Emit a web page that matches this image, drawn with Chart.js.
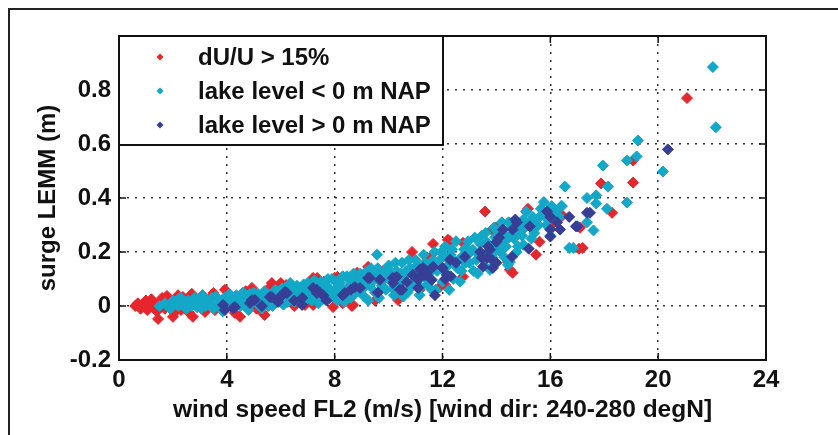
<!DOCTYPE html>
<html>
<head>
<meta charset="utf-8">
<script src="https://cdn.jsdelivr.net/npm/chart.js@4.4.0/dist/chart.umd.min.js"></script>
<style>
  html, body { margin: 0; padding: 0; background: #fff; }
  #wrap { position: relative; width: 838px; height: 435px; }
</style>
</head>
<body>
<div id="wrap"><canvas id="surge" width="838" height="435"></canvas></div>
<script>
/* ─── Data ───────────────────────────────────────────────────────────────── */
const seriesLabels = ['dU/U > 15%', 'lake level < 0 m NAP', 'lake level > 0 m NAP'];
const seriesColors = ['#e6262d', '#13a8c8', '#363e96'];

// [wind speed (m/s), surge (m)]
const gustyPoints = [
  [0.6,0.0],[0.7,0.01],[0.8,-0.01],[0.9,0.005],[1.0,0.02],[1.05,-0.015],[1.1,0.0],[1.2,0.025],
  [1.25,-0.005],[1.3,0.01],[1.4,-0.02],[1.45,-0.048],[1.5,0.015],[1.6,0.03],[1.7,-0.01],[1.78,0.037],
  [1.85,0.005],[2.0,-0.04],[2.1,-0.02],[2.19,0.04],[2.3,-0.015],[2.37,0.033],[2.5,0.025],[2.6,-0.025],
  [2.7,0.045],[2.74,-0.04],[2.74,0.033],[2.9,0.02],[3.1,0.04],[3.19,-0.022],[3.3,0.01],[3.5,0.048],
  [3.5,0.04],[3.56,-0.015],[3.7,-0.005],[3.93,0.06],[4.1,0.03],[4.3,-0.026],[4.49,-0.04],[4.5,0.04],
  [4.7,0.055],[4.93,0.067],[5.1,-0.01],[5.3,-0.022],[5.3,0.011],[5.4,-0.033],[5.5,0.06],[5.67,0.085],
  [5.7,0.078],[5.97,0.078],[6.0,0.085],[6.2,0.078],[6.34,0.078],[6.5,0.0],[6.9,0.004],[7.2,0.004],
  [7.2,0.104],[7.35,0.104],[7.6,0.09],[7.94,-0.004],[8.0,0.104],[8.1,0.108],[8.3,0.01],[8.64,0.0],
  [8.68,0.004],[8.83,0.123],[9.24,0.145],[9.5,0.02],[9.8,0.13],[10.35,0.022],[10.87,0.2],[11.16,0.06],
  [11.42,0.18],[11.54,0.18],[11.65,0.23],[11.9,0.07],[12.1,0.078],[12.2,0.245],[12.28,0.24],[12.76,0.234],
  [12.76,0.108],[13.58,0.35],[13.83,0.282],[13.95,0.29],[14.06,0.293],[14.43,0.163],[14.5,0.134],[14.6,0.123],
  [15.17,0.36],[15.47,0.19],[15.6,0.238],[16.0,0.295],[16.45,0.335],[17.06,0.212],[17.1,0.29],[17.2,0.215],
  [17.88,0.454],[18.29,0.345],[19.07,0.539],[19.07,0.457],[21.07,0.77]
];

const lowLakePoints = [
  [1.5,0.0],[1.7,0.01],[1.9,-0.01],[2.0,0.02],[2.1,0.015],[2.2,0.0],[2.25,0.03],[2.3,0.03],[2.4,0.005],
  [2.5,-0.01],[2.55,0.02],[2.6,0.01],[2.7,0.0],[2.8,0.03],[2.85,0.01],[2.9,-0.005],[3.0,0.015],[3.05,-0.01],
  [3.1,0.04],[3.15,0.025],[3.2,0.0],[3.35,0.02],[3.4,0.005],[3.45,0.03],[3.5,-0.01],[3.6,0.035],[3.7,0.01],
  [3.75,0.0],[3.8,0.02],[3.85,-0.02],[3.9,0.03],[4.0,0.01],[4.05,0.03],[4.1,0.045],[4.15,0.01],[4.2,-0.005],
  [4.3,0.02],[4.35,0.04],[4.4,0.025],[4.45,0.035],[4.5,0.0],[4.55,0.02],[4.6,0.05],[4.65,0.005],[4.7,0.015],
  [4.8,-0.015],[4.85,0.045],[4.9,0.03],[4.95,0.015],[5.0,0.05],[5.1,0.01],[5.15,0.045],[5.2,0.035],[5.25,0.025],
  [5.3,-0.01],[5.4,0.055],[5.45,0.035],[5.5,0.02],[5.55,0.0],[5.6,0.04],[5.7,0.0],[5.75,0.02],[5.8,0.06],
  [5.85,0.035],[5.9,0.025],[6.0,0.045],[6.05,0.065],[6.1,0.005],[6.15,0.05],[6.2,0.07],[6.25,0.015],[6.3,0.03],
  [6.35,0.085],[6.4,0.05],[6.45,0.035],[6.5,0.015],[6.55,0.055],[6.6,0.075],[6.7,0.04],[6.75,0.025],[6.8,0.06],
  [6.85,0.08],[6.9,0.02],[6.95,0.04],[7.0,0.085],[7.05,0.06],[7.1,0.045],[7.15,0.02],[7.2,0.03],[7.25,0.095],
  [7.3,0.07],[7.35,0.04],[7.4,0.01],[7.45,0.06],[7.5,0.09],[7.55,0.025],[7.6,0.05],[7.65,0.065],[7.7,0.075],
  [7.75,0.1],[7.8,0.03],[7.85,0.055],[7.9,0.1],[7.95,0.045],[8.0,0.06],[8.05,0.09],[8.1,0.02],[8.15,0.04],
  [8.2,0.085],[8.25,0.065],[8.3,0.11],[8.35,0.015],[8.4,0.05],[8.45,0.11],[8.5,0.07],[8.55,0.095],[8.6,0.03],
  [8.65,0.08],[8.7,0.12],[8.75,0.045],[8.8,0.09],[8.85,0.075],[8.9,0.055],[8.95,0.12],[9.0,0.1],[9.05,0.065],
  [9.1,0.035],[9.15,0.085],[9.2,0.13],[9.25,0.02],[9.3,0.075],[9.35,0.14],[9.4,0.11],[9.45,0.095],[9.5,0.05],
  [9.55,0.115],[9.57,0.19],[9.6,0.14],[9.65,0.03],[9.7,0.09],[9.75,0.075],[9.8,0.12],[9.85,0.1],[9.9,0.06],
  [9.95,0.14],[10.0,0.15],[10.05,0.12],[10.1,0.1],[10.15,0.065],[10.2,0.04],[10.25,0.16],[10.3,0.13],[10.35,0.1],
  [10.4,0.08],[10.45,0.12],[10.5,0.16],[10.55,0.035],[10.6,0.11],[10.65,0.13],[10.7,0.05],[10.75,0.17],[10.8,0.14],
  [10.85,0.07],[10.9,0.09],[10.95,0.11],[11.0,0.17],[11.05,0.15],[11.1,0.12],[11.15,0.04],[11.2,0.07],[11.25,0.14],
  [11.3,0.19],[11.35,0.16],[11.4,0.1],[11.45,0.08],[11.5,0.15],[11.55,0.125],[11.6,0.06],[11.65,0.17],[11.7,0.2],
  [11.75,0.06],[11.8,0.13],[11.85,0.15],[11.9,0.17],[11.95,0.2],[12.0,0.09],[12.05,0.13],[12.1,0.22],[12.15,0.18],
  [12.2,0.15],[12.25,0.06],[12.3,0.19],[12.35,0.21],[12.4,0.1],[12.45,0.165],[12.5,0.24],[12.55,0.14],[12.6,0.17],
  [12.65,0.09],[12.7,0.13],[12.75,0.185],[12.8,0.21],[12.85,0.16],[12.9,0.215],[12.95,0.24],[13.0,0.16],[13.05,0.2],
  [13.13,0.208],[13.15,0.13],[13.2,0.253],[13.25,0.17],[13.3,0.12],[13.35,0.19],[13.4,0.23],[13.45,0.26],[13.5,0.18],
  [13.55,0.15],[13.6,0.27],[13.65,0.235],[13.7,0.2],[13.76,0.134],[13.8,0.22],[13.85,0.18],[13.9,0.29],[13.95,0.255],
  [14.0,0.208],[14.05,0.28],[14.1,0.227],[14.15,0.2],[14.2,0.31],[14.25,0.27],[14.3,0.18],[14.3,0.238],[14.35,0.22],
  [14.43,0.152],[14.45,0.31],[14.5,0.257],[14.5,0.163],[14.55,0.29],[14.65,0.25],[14.69,0.275],[14.75,0.2],[14.8,0.22],
  [14.85,0.27],[14.87,0.3],[14.95,0.26],[15.0,0.227],[15.0,0.32],[15.05,0.29],[15.1,0.35],[15.15,0.3],[15.25,0.31],
  [15.3,0.25],[15.35,0.33],[15.4,0.27],[15.45,0.29],[15.5,0.32],[15.55,0.3],[15.6,0.33],[15.65,0.36],[15.75,0.35],
  [15.76,0.385],[15.85,0.3],[15.9,0.32],[16.0,0.26],[16.05,0.37],[16.1,0.34],[16.2,0.35],[16.35,0.33],[16.4,0.37],
  [16.43,0.37],[16.54,0.442],[16.7,0.215],[16.85,0.215],[17.36,0.4],[17.36,0.31],[17.6,0.28],[17.7,0.41],[17.7,0.38],
  [17.95,0.52],[18.1,0.36],[18.14,0.442],[18.84,0.383],[18.84,0.539],[19.2,0.554],[19.25,0.613],[20.18,0.498],
  [22.03,0.885],[22.14,0.662]
];

const highLakePoints = [
  [3.86,0.004],[3.93,-0.015],[4.23,-0.008],[4.3,-0.004],[4.86,0.011],[4.93,0.022],[5.04,0.022],[5.3,0.0],
  [5.6,0.033],[5.67,0.033],[5.9,0.015],[5.97,0.033],[6.05,0.04],[6.16,0.052],[6.23,0.048],[6.5,0.02],
  [6.79,0.004],[6.8,0.03],[7.2,0.067],[7.34,0.06],[7.34,0.048],[7.57,0.04],[7.7,0.02],[8.3,0.04],
  [8.38,0.048],[8.6,0.06],[8.75,0.07],[8.94,0.067],[9.24,0.104],[9.3,0.104],[9.6,0.05],[9.68,0.097],
  [10.16,0.104],[10.16,0.085],[10.3,0.108],[10.42,0.06],[10.5,0.06],[10.68,0.089],[10.9,0.115],[11.1,0.067],
  [11.1,0.097],[11.16,0.134],[11.28,0.141],[11.35,0.115],[11.42,0.123],[11.6,0.097],[11.65,0.145],[11.72,0.04],
  [12.0,0.141],[12.1,0.1],[12.16,0.115],[12.28,0.171],[12.3,0.11],[12.5,0.16],[12.83,0.182],[13.4,0.2],
  [13.46,0.178],[13.5,0.145],[13.65,0.178],[13.7,0.22],[13.76,0.208],[13.83,0.171],[13.87,0.141],[14.0,0.238],
  [14.0,0.16],[14.1,0.253],[14.24,0.283],[14.58,0.182],[14.6,0.283],[14.7,0.32],[14.76,0.31],[15.2,0.212],
  [15.24,0.295],[15.88,0.35],[16.0,0.33],[16.0,0.283],[16.0,0.257],[16.25,0.31],[16.36,0.283],[16.7,0.33],
  [16.95,0.295],[17.0,0.295],[17.36,0.345],[17.47,0.345],[20.36,0.58]
];

const xTicks = [0, 4, 8, 12, 16, 20, 24];
const yTicks = [-0.2, 0, 0.2, 0.4, 0.6, 0.8];

const FONT = 'Liberation Sans, Arial, sans-serif';

/* ─── Frame, box, inside ticks, legend ───────────────────────────────────── */
const matlabLook = {
  id: 'matlabLook',
  beforeDraw(chart) {
    const { ctx, width, height } = chart;
    ctx.save();
    ctx.fillStyle = '#fff';
    ctx.fillRect(0, 0, width, height);
    ctx.strokeStyle = '#222';
    ctx.lineWidth = 2;
    ctx.beginPath();
    ctx.moveTo(9, height);
    ctx.lineTo(9, 9);
    ctx.lineTo(width, 9);
    ctx.stroke();
    ctx.restore();
  },
  afterDraw(chart) {
    const { ctx, chartArea: a, scales: { x, y } } = chart;
    ctx.save();
    ctx.strokeStyle = '#111';
    ctx.lineWidth = 1.5;
    ctx.beginPath();
    xTicks.forEach(v => {
      const px = x.getPixelForValue(v);
      ctx.moveTo(px, a.bottom); ctx.lineTo(px, a.bottom - 7);
      ctx.moveTo(px, a.top);    ctx.lineTo(px, a.top + 7);
    });
    yTicks.forEach(v => {
      const py = y.getPixelForValue(v);
      ctx.moveTo(a.left, py);  ctx.lineTo(a.left + 7, py);
      ctx.moveTo(a.right, py); ctx.lineTo(a.right - 7, py);
    });
    ctx.stroke();
    ctx.lineWidth = 2;
    ctx.strokeRect(a.left, a.top, a.right - a.left, a.bottom - a.top);

    // legend box, top-left inside the axes
    const lx = a.left, ly = a.top, lw = 324, lh = 109;
    ctx.fillStyle = '#fff';
    ctx.fillRect(lx, ly, lw, lh);
    ctx.strokeRect(lx, ly, lw, lh);
    ctx.font = `bold 24px ${FONT}`;
    ctx.textBaseline = 'middle';
    seriesLabels.forEach((label, i) => {
      const cy = ly + 21 + i * 34;
      ctx.fillStyle = seriesColors[i];
      ctx.beginPath();
      ctx.moveTo(lx + 41 - 3.5, cy); ctx.lineTo(lx + 41, cy - 3.5);
      ctx.lineTo(lx + 41 + 3.5, cy); ctx.lineTo(lx + 41, cy + 3.5);
      ctx.closePath();
      ctx.fill();
      ctx.fillStyle = '#111';
      ctx.fillText(label, lx + 79, cy + 1);
    });
    ctx.restore();
  }
};

function makeSet(i, pts, order) {
  return {
    label: seriesLabels[i],
    data: pts.map(([x, y]) => ({ x, y })),
    pointStyle: 'rectRot',
    pointRadius: 5.5,
    pointHoverRadius: 5.5,
    pointBorderWidth: 1,
    backgroundColor: seriesColors[i],
    borderColor: seriesColors[i],
    order
  };
}

const dotted = {
  color: ctx => (ctx.tick && (ctx.index === 0 || ctx.index === ctx.scale.ticks.length - 1)) ? 'rgba(0,0,0,0)' : '#333',
  lineWidth: 1.5,
  drawTicks: false
};

new Chart(document.getElementById('surge'), {
  type: 'scatter',
  data: {
    datasets: [
      makeSet(0, gustyPoints, 3),
      makeSet(1, lowLakePoints, 2),
      makeSet(2, highLakePoints, 1)
    ]
  },
  plugins: [matlabLook],
  options: {
    responsive: false,
    animation: false,
    devicePixelRatio: 1,
    layout: { padding: { left: 0, right: 72, top: 36, bottom: 0 } },
    plugins: { legend: { display: false }, tooltip: { enabled: false } },
    scales: {
      x: {
        type: 'linear', min: 0, max: 24,
        afterFit: s => { s.height = 75; },
        afterBuildTicks: s => { s.ticks = xTicks.map(v => ({ value: v })); },
        grid: dotted,
        border: { display: false, dash: [2, 6] },
        ticks: { color: '#111', font: { family: FONT, size: 24, weight: 'bold' }, padding: 6, maxRotation: 0 },
        title: {
          display: true, text: 'wind speed FL2 (m/s) [wind dir: 240-280 degN]',
          color: '#111', font: { family: FONT, size: 24.5, weight: 'bold' }, padding: { top: 0, bottom: 10 }
        }
      },
      y: {
        type: 'linear', min: -0.2, max: 1.0,
        afterFit: s => { s.width = 119; },
        afterBuildTicks: s => { s.ticks = yTicks.concat([1.0]).map(v => ({ value: v })); },
        grid: dotted,
        border: { display: false, dash: [2, 6] },
        ticks: {
          color: '#111', font: { family: FONT, size: 24, weight: 'bold' }, padding: 8,
          callback: v => (Math.abs(v - 1) < 1e-9 ? '' : String(Math.round(v * 10) / 10))
        },
        title: {
          display: true, text: 'surge LEMM (m)',
          color: '#111', font: { family: FONT, size: 24, weight: 'bold' }, padding: { top: 34, bottom: 0 }
        }
      }
    }
  }
});
</script>
</body>
</html>
